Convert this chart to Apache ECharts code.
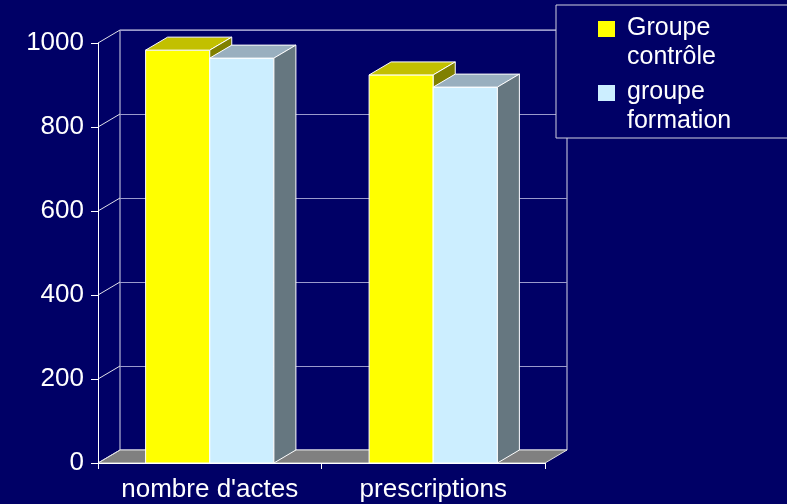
<!DOCTYPE html>
<html><head><meta charset="utf-8">
<script src="https://cdn.jsdelivr.net/npm/echarts@6/dist/echarts.min.js"></script>
<style>html,body{margin:0;padding:0;background:#000066}#c{width:787px;height:504px}</style>
</head><body><div id="c"></div>
<script>
// ---- data ----
const categories = ["nombre d'actes", "prescriptions"];
const seriesNames = ['Groupe contrôle', 'groupe formation'];
const controleValues = [983, 924];
const formationValues = [964, 895];
const yTicks = [0, 200, 400, 600, 800, 1000];

// ---- style constants ----
const BG = '#000066';
const DX = 22, DY = -13;
const BAR_RATIO = 0.287;
const EDGE = '#ffffff';
const FONT = "'Liberation Sans', Arial, sans-serif";
const palettes = [
  { front: '#ffff00', top: '#c2c000', side: '#808000' },
  { front: '#cceeff', top: '#99afbf', side: '#667780' }
];

function barRenderer(s) {
  const pal = palettes[s];
  return function (params, api) {
    const cat = api.value(0), v = api.value(1);
    const p = api.coord([cat, v]);
    const base = api.coord([cat, 0]);
    const band = api.size([1, 0])[0];
    const w = band * BAR_RATIO;
    const x0 = p[0] - w + s * w, x1 = x0 + w, yT = p[1], yB = base[1];
    return { type: 'group', children: [
      { type: 'rect', shape: { x: x0, y: yT, width: w, height: yB - yT }, style: { fill: pal.front, stroke: EDGE, lineWidth: 1 } },
      { type: 'polygon', shape: { points: [[x0, yT], [x1, yT], [x1 + DX, yT + DY], [x0 + DX, yT + DY]] }, style: { fill: pal.top, stroke: EDGE, lineWidth: 1 } },
      { type: 'polygon', shape: { points: [[x1, yT], [x1 + DX, yT + DY], [x1 + DX, yB + DY], [x1, yB]] }, style: { fill: pal.side, stroke: EDGE, lineWidth: 1 } }
    ]};
  };
}

const chart = echarts.init(document.getElementById('c'), null, { renderer: 'canvas' });

const legendGraphics = [
  { type: 'rect', shape: { x: 556, y: 5, width: 240, height: 133 }, style: { fill: BG, stroke: '#d0d0e0', lineWidth: 1 }, z: 100 }
];
seriesNames.forEach((name, i) => {
  legendGraphics.push({ type: 'rect', shape: { x: 598, y: 21 + i * 64, width: 17, height: 16 }, style: { fill: palettes[i].front }, z: 101 });
  legendGraphics.push({ type: 'text', x: 627, y: 14 + i * 64, style: { text: name.replace(' ', '\n'), fill: '#ffffff', font: '25px ' + FONT, lineHeight: 29, verticalAlign: 'top' }, z: 101 });
});

chart.setOption({
  backgroundColor: BG,
  animation: false,
  legend: { show: false },
  grid: [
    { left: 98, right: 242, top: 43, bottom: 41 },
    { left: 120, right: 220, top: 30, bottom: 54, show: true, borderColor: '#d8d8e8', borderWidth: 1, backgroundColor: 'transparent', z: 0 }
  ],
  xAxis: [
    { type: 'category', gridIndex: 0, data: categories, boundaryGap: true,
      axisLine: { show: true, lineStyle: { color: '#ffffff', width: 1 } },
      axisTick: { show: true, length: 6, lineStyle: { color: '#ffffff' } },
      axisLabel: { color: '#ffffff', fontSize: 26, fontFamily: FONT, margin: 14, interval: 0, hideOverlap: false },
      splitLine: { show: false }, z: 5 },
    { type: 'value', gridIndex: 1, min: 0, max: 1, axisLine: { show: false }, axisTick: { show: false }, axisLabel: { show: false }, splitLine: { show: false } }
  ],
  yAxis: [
    { type: 'value', gridIndex: 0, min: 0, max: 1000, interval: 200,
      axisLine: { show: true, lineStyle: { color: '#ffffff', width: 1 } },
      axisTick: { show: true, length: 7, lineStyle: { color: '#ffffff' } },
      axisLabel: { color: '#ffffff', fontSize: 26, fontFamily: FONT, margin: 14, formatter: v => String(v) },
      splitLine: { show: false }, z: 5 },
    { type: 'value', gridIndex: 1, min: 0, max: 1000, interval: 200,
      axisLine: { show: false }, axisTick: { show: false }, axisLabel: { show: false },
      splitLine: { show: true, lineStyle: { color: '#9a9acc', width: 1 } } }
  ],
  graphic: legendGraphics,
  series: [
    { type: 'custom', name: 'floor', xAxisIndex: 0, yAxisIndex: 0, z: 1, silent: true,
      data: [[0, 0]],
      renderItem: function (params, api) {
        const cs = params.coordSys;
        const yb = api.coord([0, 0])[1];
        return { type: 'polygon', shape: { points: [[cs.x, yb], [cs.x + cs.width, yb], [cs.x + cs.width + DX, yb + DY], [cs.x + DX, yb + DY]] },
          style: { fill: '#808080', stroke: '#e0e0e0', lineWidth: 1 } };
      } },
    { type: 'custom', name: 'sidewall', xAxisIndex: 0, yAxisIndex: 0, z: 1, silent: true,
      data: yTicks.map(v => [0, v]),
      renderItem: function (params, api) {
        const cs = params.coordSys;
        const y = api.coord([0, api.value(1)])[1];
        return { type: 'line', shape: { x1: cs.x, y1: y, x2: cs.x + DX, y2: y + DY }, style: { stroke: '#e0e0e8', lineWidth: 1 } };
      } },
    { type: 'custom', name: seriesNames[0], xAxisIndex: 0, yAxisIndex: 0, z: 3,
      data: controleValues.map((v, i) => [i, v]), renderItem: barRenderer(0) },
    { type: 'custom', name: seriesNames[1], xAxisIndex: 0, yAxisIndex: 0, z: 4,
      data: formationValues.map((v, i) => [i, v]), renderItem: barRenderer(1) }
  ]
});
</script>
</body></html>
